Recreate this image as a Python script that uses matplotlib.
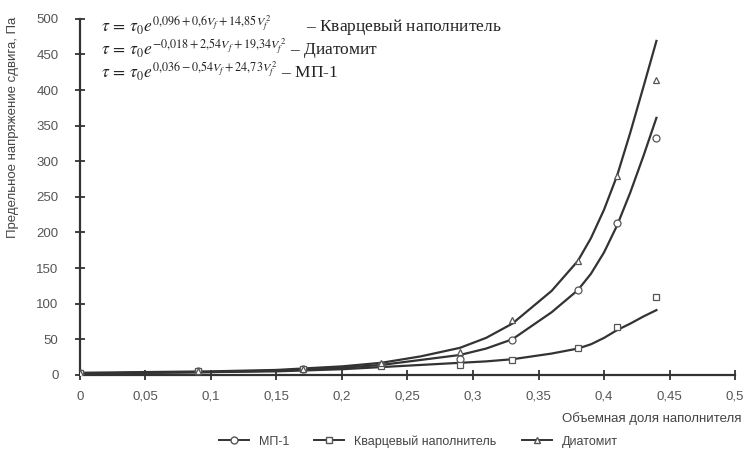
import matplotlib
matplotlib.use('Agg')
import matplotlib.pyplot as plt

# measured points
phi_pts = [0, 0.09, 0.17, 0.23, 0.29, 0.33, 0.38, 0.41, 0.44]
mp1_pts = [2, 5, 8, 14, 22, 49, 119, 213, 333]
quartz_pts = [2, 5, 8, 12, 14, 21, 38, 67, 110]
diatom_pts = [2, 5, 9, 17, 32, 77, 160, 280, 414]

# fitted curves
phi_fit = [0, 0.05, 0.1, 0.15, 0.2, 0.23, 0.26, 0.29, 0.31, 0.33, 0.36, 0.38, 0.39, 0.40, 0.41, 0.42, 0.43, 0.44]
mp1_fit = [2, 3, 4, 6, 10, 14, 21, 28, 37, 50, 88, 119, 142, 172, 210, 256, 307, 361]
quartz_fit = [2, 3, 4, 5, 8, 11, 14, 17, 19, 22, 30, 37, 43, 52, 63, 72, 82, 91]
diatom_fit = [3, 4, 5, 7, 12, 17, 26, 38, 52, 72, 118, 160, 192, 232, 280, 340, 404, 469]

xticks = [0, 0.05, 0.1, 0.15, 0.2, 0.25, 0.3, 0.35, 0.4, 0.45, 0.5]
xticklabels = ['0', '0,05', '0,1', '0,15', '0,2', '0,25', '0,3', '0,35', '0,4', '0,45', '0,5']
yticks = [0, 50, 100, 150, 200, 250, 300, 350, 400, 450, 500]

equations = [
    (r'$\tau\, =\, \tau_0 e^{0{,}096+0{,}6V_f+14{,}85V_f^{\,2}}$        – Кварцевый наполнитель'),
    (r'$\tau\, =\, \tau_0 e^{-0{,}018+2{,}54V_f+19{,}34V_f^{\,2}}$ – Диатомит'),
    (r'$\tau\, =\, \tau_0 e^{0{,}036-0{,}54V_f+24{,}73V_f^{\,2}}$ – МП-1'),
]

plt.rcParams['font.family'] = ['Liberation Sans', 'DejaVu Sans']
plt.rcParams['mathtext.fontset'] = 'stix'

LineCol = '#333333'
MarkCol = '#555555'

fig = plt.figure(figsize=(7.47, 4.49), dpi=100)
ax = fig.add_axes([0.107, 0.165, 0.877, 0.793])

# fitted curves
ax.plot(phi_fit, diatom_fit, color=LineCol, lw=1.6, zorder=2)
ax.plot(phi_fit, mp1_fit, color=LineCol, lw=1.6, zorder=2)
ax.plot(phi_fit, quartz_fit, color=LineCol, lw=1.6, zorder=2)

# experimental points
mk = dict(ls='none', ms=5, mfc='white', mec=MarkCol, mew=0.9, zorder=3)
ax.plot(phi_pts, mp1_pts, marker='o', **mk)
ax.plot(phi_pts, quartz_pts, marker='s', **mk)
ax.plot(phi_pts, diatom_pts, marker='^', **mk)

# legend handles
h1, = ax.plot([], [], color=LineCol, lw=1.4, marker='o', ms=5, mfc='white', mec=MarkCol)
h2, = ax.plot([], [], color=LineCol, lw=1.4, marker='s', ms=5, mfc='white', mec=MarkCol)
h3, = ax.plot([], [], color=LineCol, lw=1.4, marker='^', ms=5, mfc='white', mec=MarkCol)
fig.legend([h1, h2, h3], ['МП-1', 'Кварцевый наполнитель', 'Диатомит'],
           loc='lower center', bbox_to_anchor=(0.56, -0.022), ncol=3, frameon=False,
           fontsize=9, handlelength=2.4, columnspacing=2.0, labelcolor='#444444')

ax.set_xlim(0, 0.5)
ax.set_ylim(0, 500)
ax.set_xticks(xticks)
ax.set_xticklabels(xticklabels)
ax.set_yticks(yticks)
ax.tick_params(direction='inout', length=7, width=1.3, colors='#333333', labelsize=9.5,
               labelcolor='#555555')
ax.tick_params(axis='x', pad=8)
ax.tick_params(axis='y', pad=12)
for s in ['top', 'right']:
    ax.spines[s].set_visible(False)
for s in ['left', 'bottom']:
    ax.spines[s].set_linewidth(1.6)
    ax.spines[s].set_color('#333333')

ax.set_xlabel('Объемная доля наполнителя', fontsize=9.5, color='#444444')
ax.xaxis.set_label_coords(1.01, -0.105)
ax.xaxis.label.set_ha('right')
ax.set_ylabel('Предельное напряжение сдвига, Па', fontsize=9.5, color='#444444')
ax.yaxis.set_label_coords(-0.093, 0.694)

# equations
for i, eq in enumerate(equations):
    ax.text(0.016, 491 - i * 32, eq, fontsize=12.5, family=['Liberation Serif', 'DejaVu Serif'],
            color='#222222', va='center', ha='left')

fig.savefig('out.png', dpi=100)
